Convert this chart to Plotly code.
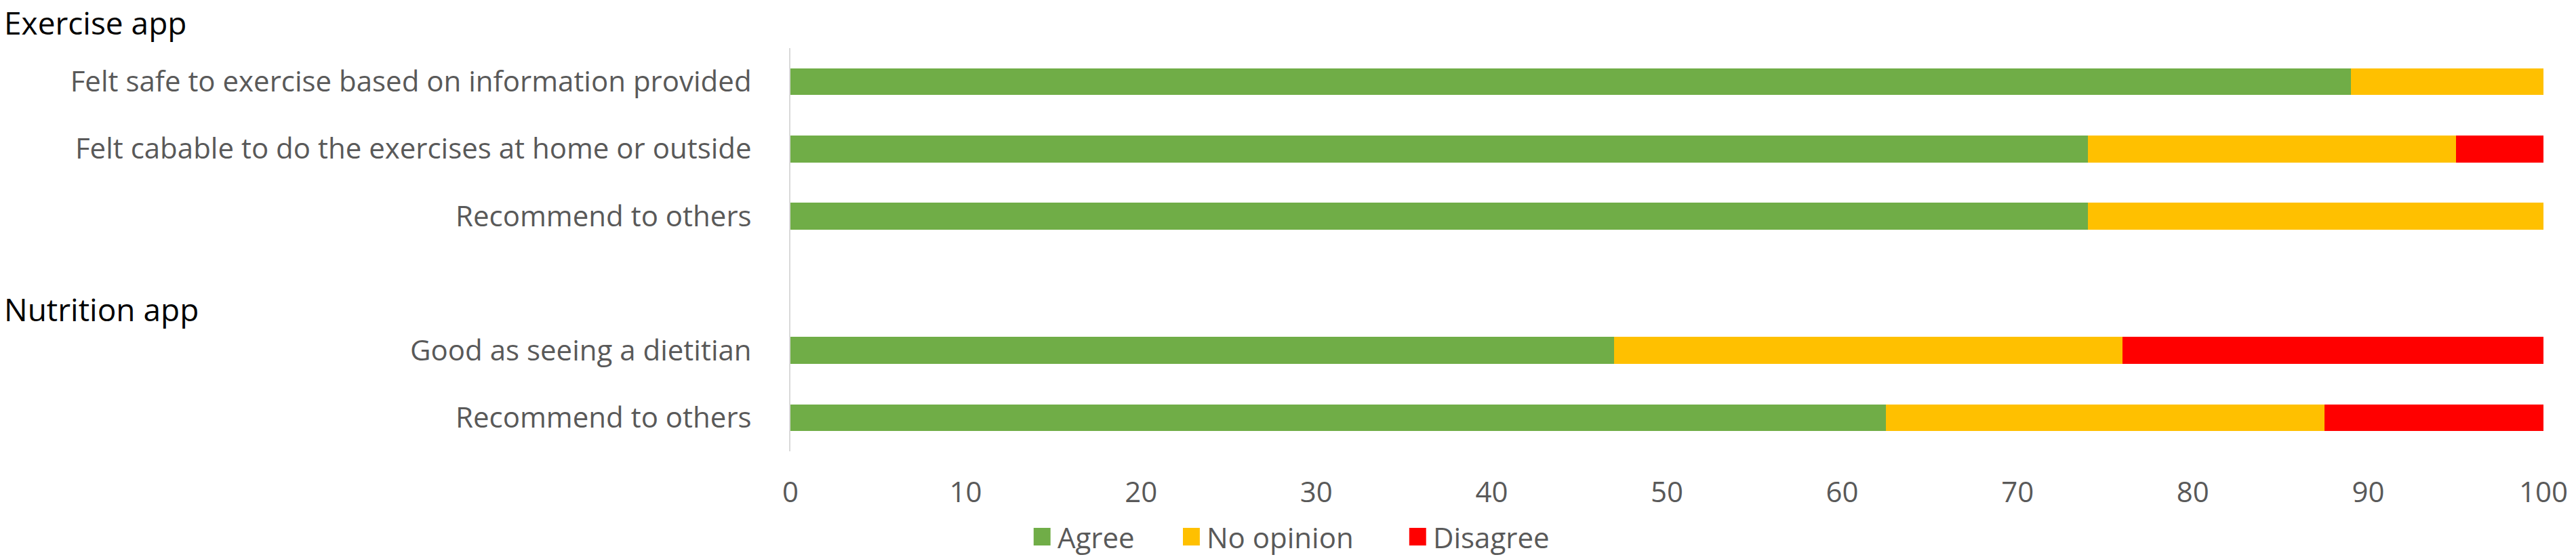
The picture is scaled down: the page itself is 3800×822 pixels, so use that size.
import plotly.graph_objects as go

# survey rows, top to bottom (blank row separates the two apps)
categories = [
    "Felt safe to exercise based on information provided",
    "Felt cabable to do the exercises at home or outside",
    "Recommend to others",
    "",
    "Good as seeing a dietitian",
    "Recommend to others",
]
agree = [89, 74, 74, None, 47, 62.5]
no_opinion = [11, 21, 26, None, 29, 25]
disagree = [0, 5, 0, None, 24, 12.5]

series_names = ["Agree", "No opinion", "Disagree"]
series_colors = ["#70AD47", "#FFC000", "#FF0000"]
group_titles = ["Exercise app", "Nutrition app"]
x_ticks = list(range(0, 101, 10))

# canvas / plot area in pixels
W, H = 3800, 822
L, R, T, B = 1166, 39, 71, 156
PW, PH = W - L - R, H - T - B

FONT = "Open Sans"
GREY = "#595959"
FS = 42


def px_x(px):
    return (px - L) / PW


def px_y(py):
    return (H - B - py) / PH


rows = list(range(len(categories)))

fig = go.Figure()
for name, vals, color in zip(series_names, [agree, no_opinion, disagree], series_colors):
    fig.add_trace(go.Bar(
        x=vals, y=rows, name=name, orientation="h",
        marker=dict(color=color, line=dict(width=0)),
        width=0.4, showlegend=False,
    ))

fig.update_layout(
    width=W, height=H,
    barmode="stack",
    plot_bgcolor="white", paper_bgcolor="white",
    margin=dict(l=L, r=R, t=T, b=B, pad=0),
    font=dict(family=FONT, size=FS, color=GREY),
)
fig.update_xaxes(
    range=[0, 100], tickvals=x_ticks, showgrid=False, zeroline=False,
    showline=False, ticks="", ticklabelstandoff=32,
    tickfont=dict(family=FONT, size=FS, color=GREY),
)
fig.update_yaxes(
    range=[len(categories) - 0.5, -0.5], tickvals=rows, ticktext=categories,
    showgrid=False, zeroline=False, showline=True, linecolor="#D9D9D9",
    linewidth=2, ticks="", ticklabelstandoff=47,
    tickfont=dict(family=FONT, size=FS, color=GREY),
)

# group headings at the left edge
fig.add_annotation(
    text=group_titles[0], xref="paper", yref="paper", x=px_x(0), y=px_y(0),
    xanchor="left", yanchor="top", showarrow=False,
    font=dict(family=FONT, size=46, color="black"),
)
fig.add_annotation(
    text=group_titles[1], xref="paper", yref="paper", x=px_x(0), y=px_y(456),
    xanchor="left", yanchor="middle", showarrow=False,
    font=dict(family=FONT, size=46, color="black"),
)

# legend, centred under the chart
leg_x = [1526, 1747, 2082]
for name, color, lx in zip(series_names, series_colors, leg_x):
    fig.add_shape(
        type="rect", xref="paper", yref="paper",
        x0=px_x(lx), x1=px_x(lx + 25), y0=px_y(805), y1=px_y(779),
        fillcolor=color, line=dict(width=0),
    )
    fig.add_annotation(
        text=name, xref="paper", yref="paper", x=px_x(lx + 33), y=px_y(792),
        xanchor="left", yanchor="middle", showarrow=False,
        font=dict(family=FONT, size=FS, color=GREY),
    )

fig.write_html("out.html", config={"displayModeBar": False},
               post_script="document.body.style.margin='0';")
